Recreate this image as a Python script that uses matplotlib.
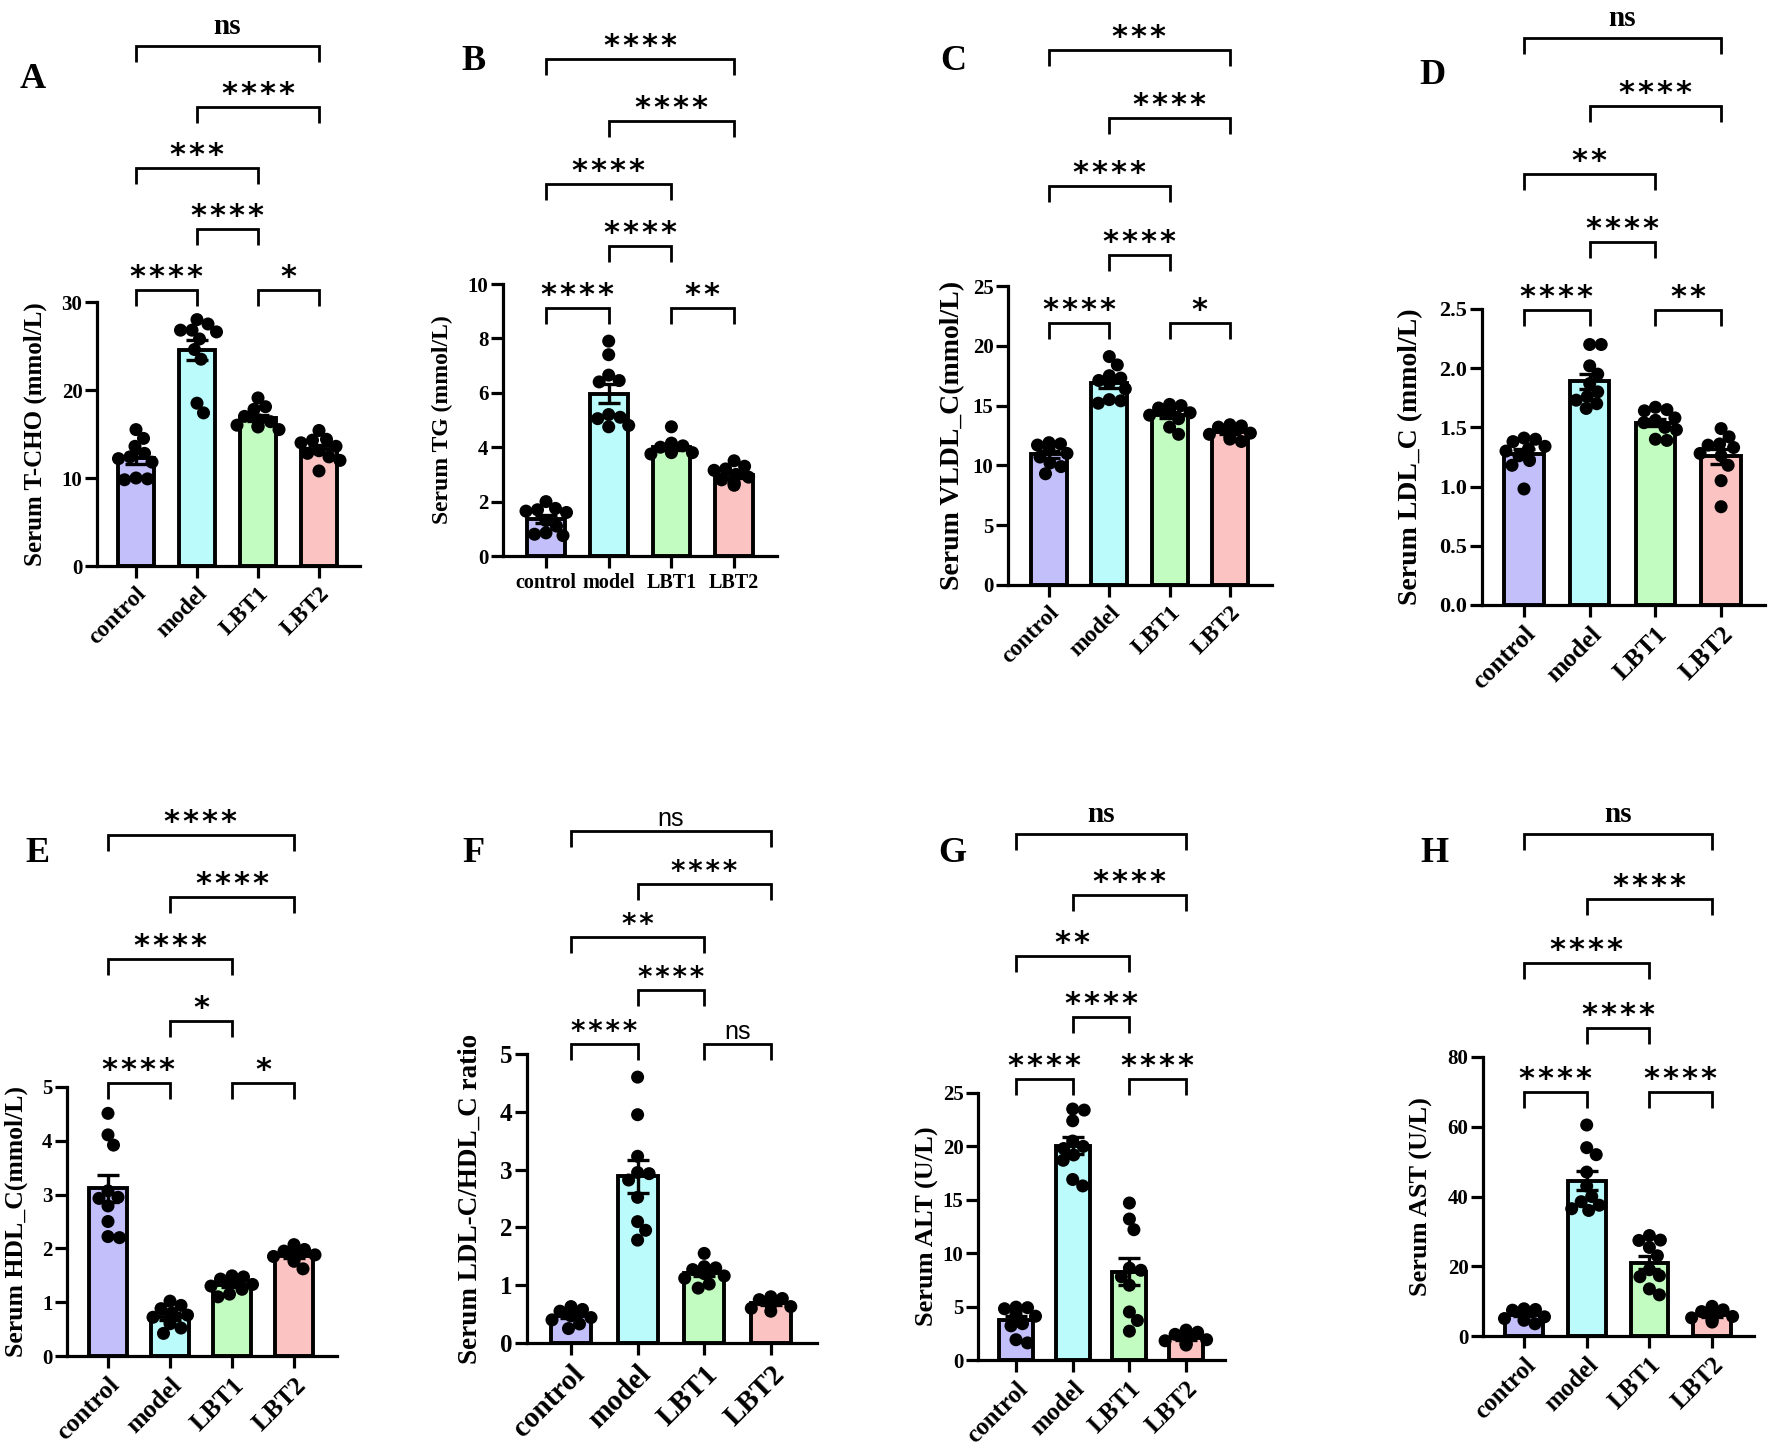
import numpy as np
import matplotlib
matplotlib.use('Agg')
import matplotlib.pyplot as plt
from matplotlib.transforms import offset_copy

plt.rcParams['font.family'] = ['Liberation Serif', 'DejaVu Serif']
plt.rcParams['font.weight'] = 'bold'

groups = ['control', 'model', 'LBT1', 'LBT2']
bar_colors = ['#C2BFFA', '#BCFBFB', '#C3FCC0', '#FCC3C3']

# ---------------- data (per group: control, model, LBT1, LBT2) ----------------
tcho = [[15.5, 14.5, 13.6, 12.8, 12.4, 12.2, 11.8, 9.9, 9.8, 10.0],
        [28.0, 27.5, 26.8, 26.6, 26.8, 25.8, 24.6, 23.5, 18.5, 17.4],
        [19.1, 18.1, 17.8, 17.0, 16.6, 16.4, 16.0, 15.8, 15.5, 15.9],
        [15.4, 14.4, 14.3, 14.0, 13.6, 13.1, 12.8, 12.4, 12.0, 10.8]]
tg = [[2.0, 1.75, 1.7, 1.65, 1.6, 1.3, 1.1, 0.85, 0.8, 0.75],
      [7.9, 7.4, 6.65, 6.45, 6.4, 5.2, 5.1, 5.05, 4.8, 4.75],
      [4.75, 4.15, 4.05, 4.0, 3.95, 3.9, 3.85, 3.8, 3.75, 3.8],
      [3.5, 3.3, 3.2, 3.15, 3.0, 2.9, 2.8, 2.7, 2.65, 2.6]]
vldl = [[11.9, 11.8, 11.7, 11.6, 11.3, 11.0, 10.7, 10.2, 9.9, 9.3],
        [19.1, 18.4, 17.5, 17.3, 17.1, 16.9, 16.4, 15.5, 15.4, 15.2],
        [15.1, 15.0, 14.8, 14.7, 14.5, 14.4, 14.2, 13.9, 13.2, 12.6],
        [13.4, 13.3, 13.2, 13.0, 12.9, 12.7, 12.6, 12.4, 12.2, 12.0]]
ldl = [[1.41, 1.40, 1.38, 1.34, 1.32, 1.30, 1.26, 1.22, 1.18, 0.98],
       [2.20, 2.20, 2.02, 1.95, 1.87, 1.80, 1.76, 1.73, 1.70, 1.66],
       [1.67, 1.65, 1.64, 1.58, 1.56, 1.54, 1.50, 1.48, 1.40, 1.39],
       [1.49, 1.42, 1.36, 1.35, 1.33, 1.28, 1.26, 1.18, 1.05, 0.83]]
hdl = [[4.51, 4.11, 3.92, 3.07, 2.95, 2.93, 2.79, 2.50, 2.22, 2.20],
       [1.02, 0.94, 0.88, 0.80, 0.76, 0.72, 0.66, 0.60, 0.52, 0.42],
       [1.49, 1.47, 1.43, 1.40, 1.36, 1.33, 1.30, 1.24, 1.15, 1.10],
       [2.07, 1.98, 1.95, 1.90, 1.88, 1.85, 1.83, 1.80, 1.76, 1.62]]
ratio = [[0.63, 0.58, 0.55, 0.52, 0.50, 0.47, 0.44, 0.40, 0.33, 0.25],
         [4.60, 3.95, 3.23, 2.95, 2.93, 2.82, 2.52, 2.10, 1.95, 1.78],
         [1.55, 1.32, 1.30, 1.27, 1.22, 1.20, 1.16, 1.12, 1.02, 0.95],
         [0.80, 0.77, 0.75, 0.72, 0.70, 0.69, 0.66, 0.63, 0.60, 0.55]]
alt = [[4.95, 4.9, 4.8, 4.6, 4.3, 4.1, 3.4, 3.2, 1.9, 1.6],
       [23.5, 23.4, 22.4, 20.5, 20.0, 19.8, 19.2, 18.7, 16.9, 16.3],
       [14.7, 13.2, 12.2, 8.6, 8.4, 7.8, 7.0, 4.5, 3.7, 2.7],
       [2.8, 2.6, 2.4, 2.2, 2.0, 1.9, 1.8, 1.6, 1.5, 1.4]]
ast = [[7.8, 7.6, 7.4, 7.2, 6.5, 6.0, 5.5, 5.0, 4.5, 3.5],
       [60.5, 54.0, 52.0, 47.0, 43.0, 40.0, 38.5, 37.5, 36.5, 36.0],
       [28.8, 27.5, 27.4, 25.4, 23.0, 19.0, 17.3, 17.0, 13.5, 11.8],
       [8.5, 7.5, 7.0, 6.5, 6.0, 5.6, 5.2, 4.8, 4.5, 4.0]]

ylabels = ['Serum T-CHO (mmol/L)', 'Serum TG (mmol/L)', 'Serum VLDL_C(mmol/L)',
           'Serum LDL_C (mmol/L)', 'Serum HDL_C(mmol/L)', 'Serum LDL-C/HDL_C ratio',
           'Serum ALT (U/L)', 'Serum AST (U/L)']
panel_letters = ['A', 'B', 'C', 'D', 'E', 'F', 'G', 'H']
yticks = [[0, 10, 20, 30], [0, 2, 4, 6, 8, 10], [0, 5, 10, 15, 20, 25],
          [0.0, 0.5, 1.0, 1.5, 2.0, 2.5], [0, 1, 2, 3, 4, 5], [0, 1, 2, 3, 4, 5],
          [0, 5, 10, 15, 20, 25], [0, 20, 40, 60, 80]]
# comparisons: (group i, group j, bracket level)
comparisons = [(0, 1, 0), (2, 3, 0), (1, 2, 1), (0, 2, 2), (1, 3, 3), (0, 3, 4)]
sig = [['****', '*', '****', '***', '****', 'ns'],
       ['****', '**', '****', '****', '****', '****'],
       ['****', '*', '****', '****', '****', '***'],
       ['****', '**', '****', '**', '****', 'ns'],
       ['****', '*', '*', '****', '****', '****'],
       ['****', 'ns', '****', '**', '****', 'ns'],
       ['****', '****', '****', '**', '****', 'ns'],
       ['****', '****', '****', '****', '****', 'ns']]
datasets = [tcho, tg, vldl, ldl, hdl, ratio, alt, ast]

# ---------------- layout (pixels in a 1772x1446 canvas) ----------------
W, H = 1772, 1446
# left, right, ytop, y0, first-category x, category spacing
boxes = [(97, 360, 302, 566, 136, 61.0),
         (503, 777, 284, 556, 546, 62.7),
         (1008, 1272, 286, 585, 1049, 60.3),
         (1482, 1765, 309, 605, 1524, 65.7),
         (67, 337, 1087, 1356, 108, 62.0),
         (527, 817, 1054, 1343, 571, 66.6),
         (978, 1225, 1093, 1360, 1016, 56.7),
         (1483, 1754, 1057, 1336, 1524, 62.7)]
# bracket first-level height (data units) and level step (data units)
brk = [(31.4, 6.92), (9.11, 2.29), (21.9, 5.71), (2.49, 0.574),
       (5.07, 1.153), (5.18, 0.92), (26.35, 5.73), (69.9, 18.5)]
letter_pos = [(33, 80), (473, 62), (953, 62), (1432, 76),
              (37, 853), (473, 853), (952, 853), (1434, 853)]
ylabel_edge = [47, 453, 965, 1423, 28, 483, 939, 1433]
ylabel_fs = [18, 17, 20, 20, 18.5, 19.5, 19, 19]
tick_fs = [15, 15, 15, 16, 15, 18, 15, 15]
xlab_fs = [17, 14.5, 17, 18.5, 18.5, 21, 18, 18]
star_fs = [22, 22, 22, 22, 22, 20, 22, 22]

fig = plt.figure(figsize=(W / 100, H / 100), dpi=100)


def swarm_offsets(vals, ppy, d, lim):
    vals = np.asarray(vals, float)
    order = np.argsort(-vals, kind='stable')
    placed = []
    offs = np.zeros(len(vals))
    cands = sorted(np.arange(-lim, lim + 0.01, 0.5), key=lambda c: (abs(c), -c))
    for k in order:
        y = vals[k] * ppy
        best = cands[0]
        for c in cands:
            if all((c - px) ** 2 + (y - py) ** 2 >= d * d for px, py in placed):
                best = c
                break
        placed.append((best, y))
        offs[k] = best
    return offs


for p in range(8):
    left, right, ytop, y0, c0, sp = boxes[p]
    ax = fig.add_axes([left / W, (H - y0) / H, (right - left) / W, (y0 - ytop) / H])
    data = datasets[p]
    ymax = yticks[p][-1]
    ppy = (y0 - ytop) / ymax
    x = np.arange(4)
    means = np.array([np.mean(v) for v in data])
    sems = np.array([np.std(v, ddof=1) / np.sqrt(len(v)) for v in data])

    ax.bar(x, means, width=0.6, color=bar_colors, edgecolor='black', linewidth=2.8, zorder=2)
    for g in range(4):
        offs = swarm_offsets(data[g], ppy, 11.5, 21) / sp
        ax.scatter(g + offs, data[g], s=88, color='black', edgecolors='none', zorder=3, clip_on=False)
    ax.errorbar(x, means, yerr=sems, fmt='none', ecolor='black', elinewidth=2.4,
                capsize=8, capthick=2.4, zorder=4)

    ax.set_xlim((left - c0) / sp, (right - c0) / sp)
    ax.set_ylim(0, ymax)
    ax.set_yticks(yticks[p])
    if p == 3:
        ax.set_yticklabels(['%.1f' % t for t in yticks[p]])
    ax.set_xticks(x)
    if p == 1:
        ax.set_xticklabels(groups, fontsize=xlab_fs[p], fontweight='bold')
    else:
        ax.set_xticklabels(groups, rotation=45, ha='right', rotation_mode='anchor',
                           fontsize=xlab_fs[p], fontweight='bold')
    for s in ['top', 'right']:
        ax.spines[s].set_visible(False)
    for s in ['left', 'bottom']:
        ax.spines[s].set_linewidth(2.3)
    ax.tick_params(axis='y', length=8.5, width=2.3, labelsize=tick_fs[p], pad=2)
    ax.tick_params(axis='x', length=8.5, width=2.3, pad=4)
    for lab in ax.get_yticklabels():
        lab.set_fontweight('bold')
    ax.set_ylabel(ylabels[p], fontsize=ylabel_fs[p], fontweight='bold')
    ax.yaxis.set_label_coords((ylabel_edge[p] - left) / (right - left), 0.5)
    ax.patch.set_visible(False)

    # significance brackets
    base, step = brk[p]
    leg = 16 / ppy
    star_tr = offset_copy(ax.transData, fig=fig, x=0, y=4, units='dots')
    ns_tr = offset_copy(ax.transData, fig=fig, x=0, y=12, units='dots')
    ns_tr_f = offset_copy(ax.transData, fig=fig, x=0, y=5, units='dots')
    for (i, j, lev), lab in zip(comparisons, sig[p]):
        h = base + lev * step
        ax.plot([i, i, j, j], [h - leg, h, h, h - leg], color='black', lw=2.0,
                clip_on=False, solid_capstyle='butt', solid_joinstyle='miter')
        xm = (i + j) / 2
        if lab == 'ns':
            if p == 5:
                ax.text(xm, h, 'ns', transform=ns_tr_f, ha='center', va='baseline',
                        fontsize=18, fontweight='normal', family=['Liberation Sans'])
            else:
                ax.text(xm, h, 'ns', transform=ns_tr, ha='center', va='baseline',
                        fontsize=21, fontweight='bold')
        else:
            ax.text(xm, h, '\u200a'.join(lab), transform=star_tr, ha='center', va='baseline',
                    fontsize=star_fs[p], fontweight='bold', family=['DejaVu Sans'])

    lx, ly = letter_pos[p]
    fig.text(lx / W, 1 - ly / H, panel_letters[p], ha='center', va='center',
             fontsize=26, fontweight='bold')

fig.savefig('out.png', dpi=100, facecolor='white')
